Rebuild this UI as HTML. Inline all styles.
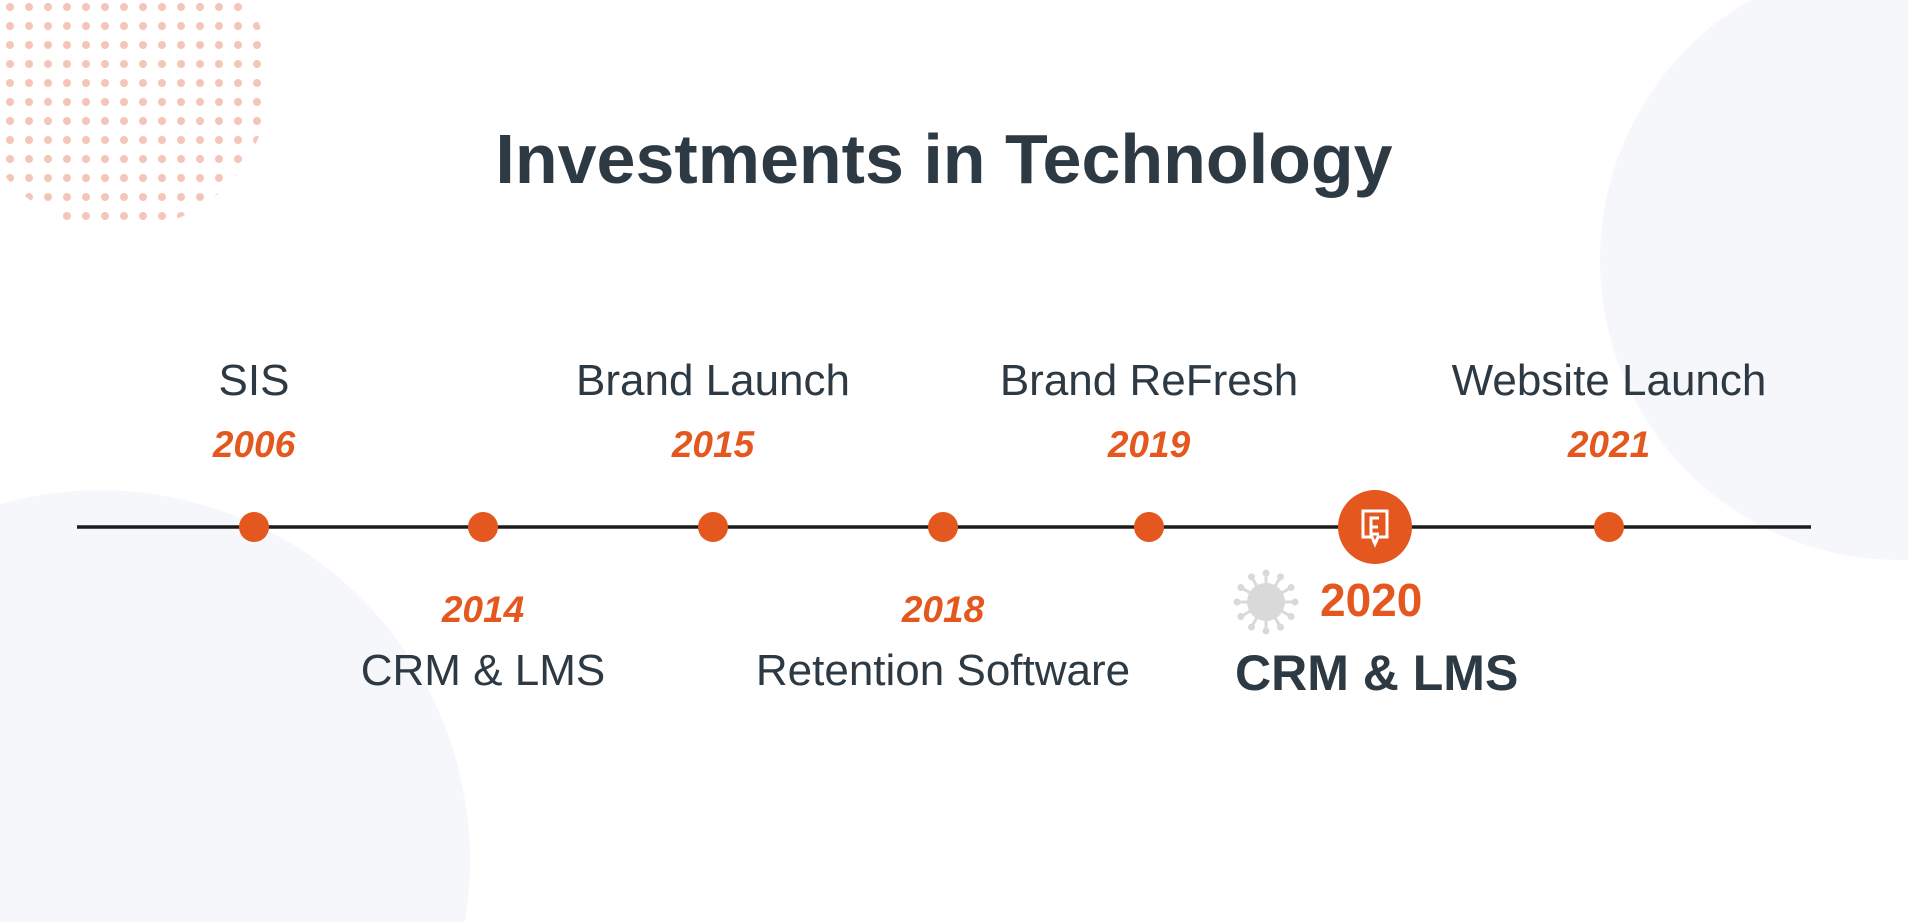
<!DOCTYPE html>
<html><head><meta charset="utf-8"><style>
html,body{margin:0;padding:0;background:#fff;overflow:hidden;width:1908px;height:922px;}
svg{display:block;}
</style></head><body>
<svg id="chart" width="1908" height="922" viewBox="0 0 1908 922" xmlns="http://www.w3.org/2000/svg" style="overflow:hidden">
  <defs>
    <clipPath id="dotclip"><circle cx="120" cy="80" r="150"/></clipPath>
  </defs>
  <rect width="1908" height="922" fill="#ffffff"/>
  <path d="M0,504 A370,370 0 0 1 464.8,922 L0,922 Z" fill="#f6f7fa"/>
  <path d="M1750.3,0 A300,300 0 0 0 1908,559.9 L1908,0 Z" fill="#f6f7fa"/>
  <g id="dots" clip-path="url(#dotclip)"></g>
  <text x="944" y="183" text-anchor="middle" font-family="Liberation Sans, sans-serif" font-weight="bold" font-size="70" fill="#2d3943">Investments in Technology</text>
  <line x1="77" y1="527" x2="1811" y2="527" stroke="#1c1c1c" stroke-width="3.5"/>
  <g id="marks"></g>
</svg>
<script>
const years = ['2006','2014','2015','2018','2019','2020','2021'];
const labels = ['SIS','CRM & LMS','Brand Launch','Retention Software','Brand ReFresh','CRM & LMS','Website Launch'];
const sides = ['top','bottom','top','bottom','top','bottom','top'];
const positions = [0,1,2,3,4,5,6];

const NS='http://www.w3.org/2000/svg';
const xs=[254,483,713,943,1149,1375,1609];
function xScale(i){return xs[Math.max(0,Math.min(xs.length-1,Math.round(i)))]+(i-Math.round(i))*230;}
const orange='#e4571f', dark='#2d3943';
const g=document.getElementById('marks');
function mk(tag,attrs,txt){const e=document.createElementNS(NS,tag);for(const k in attrs)e.setAttribute(k,attrs[k]);if(txt!==undefined)e.textContent=txt;return e;}

const dg=document.getElementById('dots');
for(let r=0;r<12;r++)for(let c=0;c<14;c++){
  const d=mk('circle',{cx:10+c*19,cy:7+r*19,r:4,fill:'#f4c6ba'});
  
  
  dg.appendChild(d);
}

years.forEach((y,i)=>{
  const x=xScale(positions[i]);
  const isHighlight = y==='2020';
  if(isHighlight){
    const c=mk('circle',{cx:x,cy:527,r:37,fill:orange});
    
    
    g.appendChild(c);
    const ic=mk('g',{fill:'none',stroke:'#fff','stroke-width':3});
    
    
    ic.appendChild(mk('path',{d:`M${x-12} ${527-16} h24 v26 h-9 l-3 7 l-3 -7 h-9 z`}));
    ic.appendChild(mk('path',{d:`M${x+4} ${527-9} h-8 v16 h8 M${x-4} ${527} h7`}));
    g.appendChild(ic);
    const vx=x-109, vy=602;
    const vg=mk('g',{fill:'#d9d9d9'});
    
    
    vg.appendChild(mk('circle',{cx:vx,cy:vy,r:19}));
    for(let k=0;k<12;k++){const a=k*Math.PI/6;
      vg.appendChild(mk('line',{x1:vx,y1:vy,x2:vx+Math.cos(a)*28,y2:vy+Math.sin(a)*28,stroke:'#d9d9d9','stroke-width':3}));
      vg.appendChild(mk('circle',{cx:vx+Math.cos(a)*29,cy:vy+Math.sin(a)*29,r:3.5}));}
    g.appendChild(vg);
    const yt=mk('text',{x:x-55,y:616,'font-family':'Liberation Sans, sans-serif','font-weight':'bold','font-size':46,fill:orange},y);
    
    
    g.appendChild(yt);
    const lt=mk('text',{x:x-140,y:690,'font-family':'Liberation Sans, sans-serif','font-weight':'bold','font-size':50,fill:dark},labels[i]);
    
    
    g.appendChild(lt);
    return;
  }
  const c=mk('circle',{cx:x,cy:527,r:15,fill:orange});
  
  
  g.appendChild(c);
  const top=sides[i]==='top';
  const yt=mk('text',{x:x,y:top?457:622,'text-anchor':'middle','font-family':'Liberation Sans, sans-serif','font-weight':'bold','font-style':'italic','font-size':37,fill:orange},y);
  
  
  g.appendChild(yt);
  const lt=mk('text',{x:x,y:top?395:685,'text-anchor':'middle','font-family':'Liberation Sans, sans-serif','font-size':44,fill:dark},labels[i]);
  
  
  g.appendChild(lt);
});
</script>
</body></html>
